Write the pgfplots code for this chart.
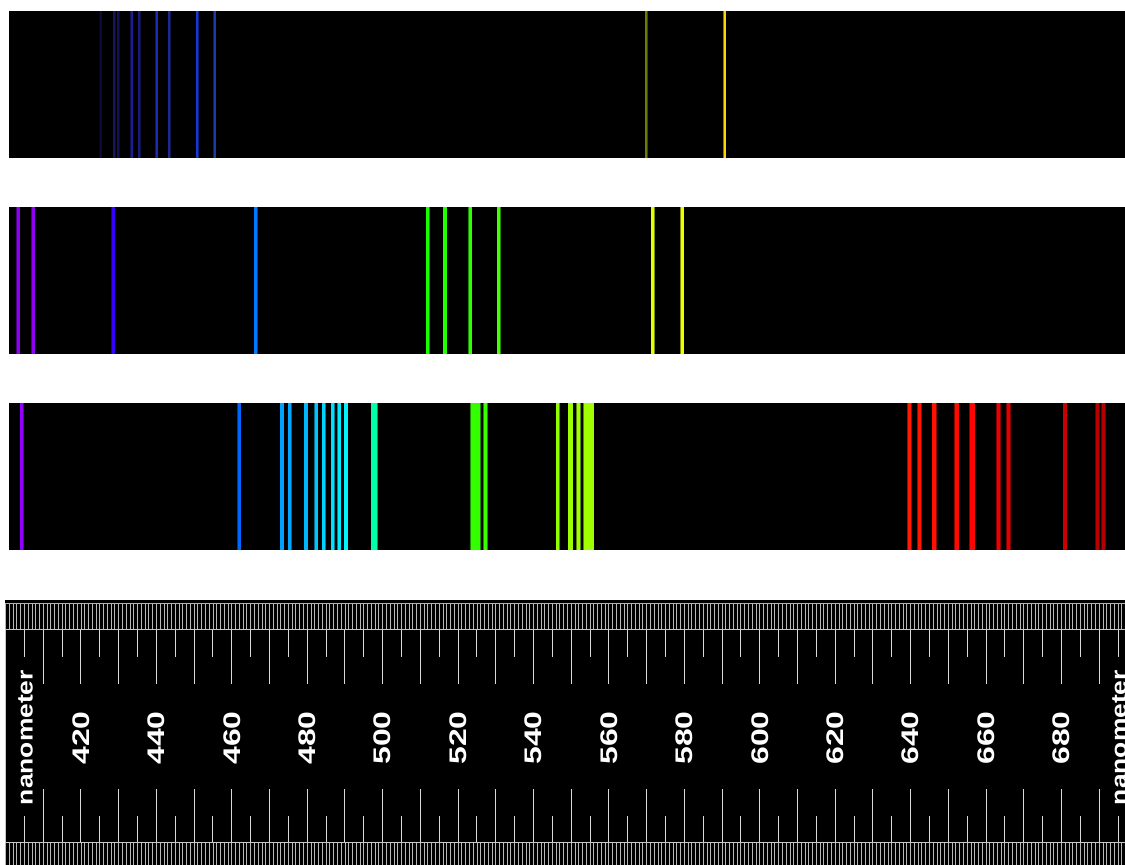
\documentclass[border=0pt]{standalone}
\usepackage{pgfplots}
\pgfplotsset{compat=1.18}
\usepackage{fontspec}
\setmainfont{Liberation Sans}

% line colours
\definecolor{a1}{HTML}{0B0B36}\definecolor{a2}{HTML}{16165E}\definecolor{a3}{HTML}{121252}
\definecolor{a4}{HTML}{1E1E92}\definecolor{a5}{HTML}{1A1A78}\definecolor{a6}{HTML}{1C2CB8}
\definecolor{a7}{HTML}{1E2A92}\definecolor{a8}{HTML}{1638DA}\definecolor{a9}{HTML}{1A3CA8}
\definecolor{a10}{HTML}{6E7C00}\definecolor{a11}{HTML}{FFD400}
\definecolor{b1}{HTML}{8E00F0}\definecolor{b2}{HTML}{9000F2}\definecolor{b3}{HTML}{3800FF}
\definecolor{b4}{HTML}{0078FF}\definecolor{b5}{HTML}{16FF00}\definecolor{b6}{HTML}{22FF00}
\definecolor{b7}{HTML}{30FF00}\definecolor{b8}{HTML}{44FF00}\definecolor{b9}{HTML}{E2FF00}
\definecolor{b10}{HTML}{EEFF00}
\definecolor{c1}{HTML}{9200FF}\definecolor{c2}{HTML}{0068FF}\definecolor{c3}{HTML}{00A2FF}
\definecolor{c4}{HTML}{00A8FF}\definecolor{c5}{HTML}{00B6FF}\definecolor{c6}{HTML}{00C6FF}
\definecolor{c7}{HTML}{00D4FF}\definecolor{c8}{HTML}{00E0FF}\definecolor{c9}{HTML}{00EAFF}
\definecolor{c10}{HTML}{00F4FF}\definecolor{c11}{HTML}{00FFA8}\definecolor{c12}{HTML}{33FF00}
\definecolor{c13}{HTML}{3EFF00}\definecolor{c14}{HTML}{94FF00}\definecolor{c15}{HTML}{9AFF00}
\definecolor{c16}{HTML}{A0FF00}\definecolor{c17}{HTML}{A2FF00}
\definecolor{r1}{HTML}{FF1C00}\definecolor{r2}{HTML}{FF1800}\definecolor{r3}{HTML}{FF1200}
\definecolor{r4}{HTML}{FF0A00}\definecolor{r5}{HTML}{FF0400}\definecolor{r6}{HTML}{EC0000}
\definecolor{r7}{HTML}{E40000}\definecolor{r8}{HTML}{C80000}\definecolor{r9}{HTML}{B80000}
\definecolor{r10}{HTML}{B40000}

% one spectral line: wavelength (nm), colour, width (px)
\newcommand{\sline}[3]{%
  \addplot[draw=#2!55!black, line width=#3pt] coordinates {(#1,0) (#1,1)};
  \addplot[draw=#2, line width=#3pt-1.2pt] coordinates {(#1,0) (#1,1)};
}
\newcommand{\rl}[1]{\scalebox{1.33}[1]{#1}}

\pgfplotsset{
  panel/.style={anchor=south west, scale only axis, width=1116pt, height=147pt,
    xmin=400.907, xmax=696.85, ymin=0, ymax=1,
    axis background/.style={fill=black}, axis line style={draw=none},
    xtick=\empty, ytick=\empty},
}

\begin{document}
\begin{tikzpicture}[x=1pt, y=1pt]
\useasboundingbox (0,0) rectangle (1125,865);
\clip (0,0) rectangle (1125,865);
\fill[white] (0,0) rectangle (1125,865);

% panel 1
\begin{axis}[panel, at={(9pt,707pt)}]
\sline{425.22}{a1}{3}
\sline{428.83}{a2}{3}
\sline{429.89}{a3}{3}
\sline{433.52}{a4}{3}
\sline{435.46}{a5}{3}
\sline{440.15}{a6}{3}
\sline{443.34}{a7}{3}
\sline{450.84}{a8}{3.5}
\sline{455.53}{a9}{3}
\sline{569.91}{a10}{3}
\sline{590.70}{a11}{3.5}
\end{axis}

% panel 2
\begin{axis}[panel, at={(9pt,511pt)}]
\sline{403.37}{b1}{4.3}
\sline{407.35}{b2}{4.3}
\sline{428.57}{b3}{4.3}
\sline{466.33}{b4}{4.3}
\sline{511.94}{b5}{4.3}
\sline{516.53}{b6}{4.3}
\sline{523.23}{b7}{4.3}
\sline{530.77}{b8}{4.3}
\sline{571.60}{b9}{4.3}
\sline{579.45}{b10}{4.3}
\end{axis}

% panel 3
\begin{axis}[panel, at={(9pt,315pt)}]
\sline{404.27}{c1}{4.3}
\sline{461.98}{c2}{4.3}
\sline{473.30}{c3}{4.3}
\sline{475.34}{c4}{4.3}
\sline{479.67}{c5}{4.3}
\sline{482.40}{c6}{4.3}
\sline{484.36}{c7}{4.3}
\sline{486.75}{c8}{4.3}
\sline{488.50}{c9}{4.3}
\sline{490.27}{c10}{4.3}
\sline{497.78}{c11}{7.3}
\sline{524.56}{c12}{10.7}
\sline{527.27}{c13}{4.5}
\sline{546.44}{c14}{4.3}
\sline{549.81}{c15}{5.7}
\sline{551.98}{c16}{4.7}
\sline{554.66}{c17}{11}
\sline{639.65}{r1}{4.7}
\sline{642.41}{r2}{4.7}
\sline{646.28}{r3}{5}
\sline{652.22}{r4}{5}
\sline{656.36}{r5}{6.3}
\sline{663.25}{r6}{4.7}
\sline{666.01}{r7}{4.7}
\sline{680.94}{r8}{4.7}
\sline{689.61}{r9}{4.5}
\sline{691.15}{r10}{4.5}
\end{axis}

% ruler
\fill[black] (5,0) rectangle (1125,265);
\draw[white!70!black, line width=1pt] (5,261) -- (1125,261);
\foreach \n in {400,...,700} {
  \draw[white!72!black, line width=0.9pt] ({5.58+3.771*(\n-400)},235) -- ++(0,26);
  \draw[white!72!black, line width=0.9pt] ({5.58+3.771*(\n-400)},0) -- ++(0,22);
}
\begin{axis}[anchor=south west, at={(5.58pt,22pt)}, scale only axis,
  width=1131.3pt, height=213pt, xmin=400, xmax=700, ymin=0, ymax=1,
  axis background/.style={fill=black},
  axis line style={white!78!black, line width=1pt},
  ytick=\empty,
  xtick={400,410,...,700}, minor x tick num=1,
  xtick pos=both, tick align=inside,
  major tick length=53.5pt, minor tick length=27pt,
  every tick/.style={white!85!black, line width=1pt},
  xticklabels={,,\rl{420},,\rl{440},,\rl{460},,\rl{480},,\rl{500},,\rl{520},,\rl{540},,\rl{560},,\rl{580},,\rl{600},,\rl{620},,\rl{640},,\rl{660},,\rl{680},,},
  xticklabel style={yshift=105pt, rotate=90, anchor=center, text=white,
    font=\fontsize{24}{24}\selectfont\bfseries},
]
\node[rotate=90, text=white, font=\fontsize{22}{22}\selectfont\bfseries]
  at (axis cs:405.3,0.495) {\scalebox{1.2}[1]{nanometer}};
\node[rotate=90, text=white, font=\fontsize{22}{22}\selectfont\bfseries]
  at (axis cs:695.4,0.495) {\scalebox{1.2}[1]{nanometer}};
\end{axis}
\end{tikzpicture}
\end{document}
